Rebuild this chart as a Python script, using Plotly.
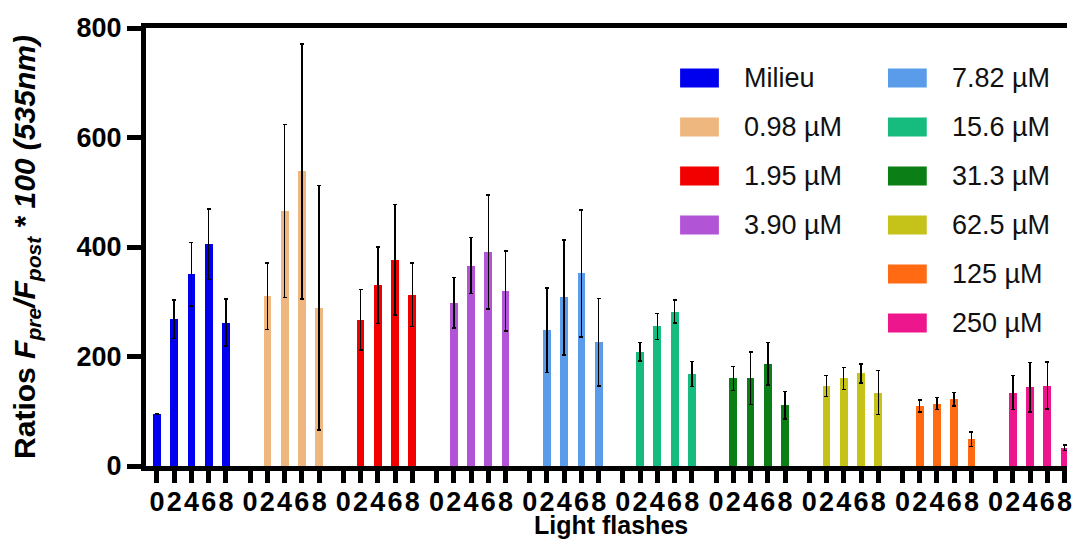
"""Light-flash ratios per concentration, Prism-style grouped bars (Plotly)."""

import numpy as np
import plotly.graph_objects as go

# ---- data --------------------------------------------------------------------
groups = ["Milieu", "0.98 µM", "1.95 µM", "3.90 µM", "7.82 µM",
          "15.6 µM", "31.3 µM", "62.5 µM", "125 µM", "250 µM"]
colors = ["#0000EE", "#EFB780", "#F20000", "#B254D6", "#5B9CEA",
          "#15BC7E", "#0B7E16", "#C5C21A", "#FF6A12", "#EE168C"]
flashes = [0, 2, 4, 6, 8]

means = [
    [95, 268, 350, 405, 262],
    [None, 310, 466, 538, 289],
    [None, 267, 330, 377, 313],
    [None, 298, 366, 391, 320],
    [None, 248, 308, 352, 226],
    [None, 209, 255, 282, 168],
    [None, 160, 160, 187, 111],
    [None, 146, 160, 169, 134],
    [None, 110, 114, 122, 49],
    [None, 134, 144, 147, 33],
]
errors = [
    [None, 35, 58, 64, 43],
    [None, 61, 158, 233, 223],
    [None, 55, 70, 101, 58],
    [None, 46, 51, 104, 73],
    [None, 77, 105, 116, 80],
    [None, 17, 24, 21, 23],
    [None, 22, 48, 39, 25],
    [None, 19, 20, 17, 40],
    [None, 11, 11, 12, 13],
    [None, 31, 45, 43, 5],
]

GROUP_STEP = 5.4          # slot units between group starts
SLOT_PX = 17.35           # pixels per slot
PAGE = 8                  # default body margin of the html page
W, H = 1080 - 2 * PAGE, 549 - 2 * PAGE   # keep the page free of scrollbars
L, R, T = 146 - PAGE, 0, 28 - PAGE
B = H - (466 - PAGE)

slot = np.arange(len(flashes))
fig = go.Figure()
tickvals, ticktext = [], []
for g, (name, col) in enumerate(zip(groups, colors)):
    xs = g * GROUP_STEP + slot
    tickvals += list(xs)
    ticktext += [str(f) for f in flashes]
    fig.add_trace(go.Bar(
        x=xs, y=means[g], name=name, width=0.45,
        marker=dict(color=col, line=dict(width=0)),
        error_y=dict(type="data", array=errors[g], visible=True,
                     color="black", thickness=1.5, width=2),
        showlegend=False,
    ))


# screen pixel -> paper fraction
def px_x(p):
    return (p - PAGE - L) / (W - L - R)


def px_y(p):
    return (H - B - (p - PAGE)) / (H - T - B)


# legend drawn as wide swatches, two columns like the original
columns = [(groups[:4], colors[:4], 683), (groups[4:], colors[4:], 892)]
for names, cols, x0 in columns:
    for i, (name, col) in enumerate(zip(names, cols)):
        yc = 78 + 49 * i
        fig.add_shape(type="rect", xref="paper", yref="paper",
                      x0=px_x(x0), x1=px_x(x0 + 39),
                      y0=px_y(yc + 9.5), y1=px_y(yc - 9.5),
                      fillcolor=col, line=dict(width=0))
        fig.add_annotation(xref="paper", yref="paper", x=px_x(x0 + 62),
                           y=px_y(yc), text=name, showarrow=False,
                           xanchor="left", yanchor="middle",
                           font=dict(size=27, color="#111",
                                     family="Liberation Sans, Arial"))

# x title as an annotation so it sits right under the tick labels
fig.add_annotation(xref="paper", yref="paper", x=px_x(614), y=px_y(509),
                   text="Light flashes", showarrow=False,
                   xanchor="center", yanchor="top",
                   font=dict(size=25, weight="bold", color="black"))

x_lo = -(157 - 146) / SLOT_PX
x_hi = x_lo + (W - L - R) / SLOT_PX
fig.update_layout(
    width=W, height=H,
    margin=dict(l=L, r=R, t=T, b=B),
    plot_bgcolor="white", paper_bgcolor="white",
    font=dict(family="Liberation Sans, Arial", color="black"),
    bargap=0,
    xaxis=dict(
        range=[x_lo, x_hi],
        tickmode="array", tickvals=tickvals, ticktext=ticktext,
        ticks="outside", ticklen=12, tickwidth=5, tickcolor="black",
        showline=True, linewidth=5, linecolor="black", mirror=True,
        showgrid=False, zeroline=False, ticklabeloverflow="allow",
        ticklabelstandoff=-4,
        tickfont=dict(size=27, weight="bold"),
    ),
    yaxis=dict(
        range=[0, 800], tickvals=[0, 200, 400, 600, 800],
        ticks="outside", ticklen=14, tickwidth=5, tickcolor="black",
        showline=True, linewidth=5, linecolor="black",
        showgrid=False, zeroline=False,
        tickfont=dict(size=27, weight="bold"),
        title=dict(
            text="Ratios <i>F<sub>pre</sub>/F<sub>post</sub> * 100 (535nm)</i>",
            standoff=35, font=dict(size=30, weight="bold")),
    ),
)

fig.write_html("out.html")
